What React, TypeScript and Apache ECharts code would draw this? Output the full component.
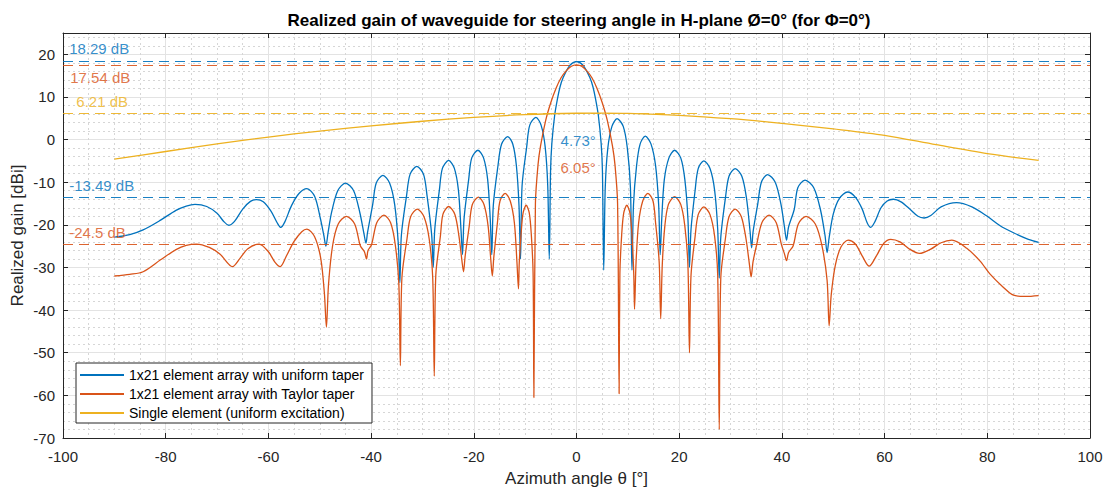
import { useEffect, useRef } from "react";
import * as echarts from "echarts";

// ---------- data ----------
const uniformGain: [number, number][] = [
  [-90, -22.9], [-87, -22.3], [-84.4, -21.2], [-81, -18.9], [-78, -16.6], [-76, -15.6], [-74.3, -15.2], [-72, -15.7], [-70, -17.3], [-68.7, -19.2], [-67.7, -20.1], [-66.6, -19.2], [-65, -16.3], [-63.5, -14.5], [-62.3, -14.1], [-61, -14.6], [-59.5, -16.8], [-58.3, -19.5], [-57.6, -20.6], [-56.8, -19.3], [-55.5, -15.5], [-54, -12.6], [-52.5, -11.5], [-51, -13.3], [-49.9, -18.4], [-49.2, -22.5], [-48.8, -25],
  [-48.4, -22], [-47.7, -17.1], [-46.5, -12.0], [-45, -10.2], [-43.4, -12.0], [-42.2, -17.1], [-41.4, -22], [-41, -24.3],
  [-40.7, -21.8], [-39.7, -15.3], [-39, -10.2], [-37.7, -8.4], [-36.4, -10.2], [-35.4, -15.3], [-34.7, -24.5], [-34.4, -33.6],
  [-34.1, -22.4], [-33.1, -13.2], [-32.4, -8.1], [-31.1, -6.3], [-29.8, -8.1], [-29.1, -13.2], [-28.2, -22.4], [-27.9, -30],
  [-27.6, -21.0], [-26.7, -11.8], [-26.1, -6.7], [-24.9, -4.9], [-23.8, -6.7], [-23.0, -11.8], [-22.5, -21.0], [-22.2, -27],
  [-21.9, -18.6], [-21.0, -9.4], [-20.4, -4.3], [-19.2, -2.5], [-18.1, -4.3], [-17.3, -9.4], [-16.8, -18.6], [-16.5, -27],
  [-16.2, -15.4], [-15.3, -6.2], [-14.6, -1.1], [-13.4, 0.7], [-12.4, -1.1], [-11.7, -6.2], [-11.2, -15.4], [-10.9, -28],
  [-10.6, -10.9], [-9.7, -1.7], [-9.1, 3.4], [-7.9, 5.2], [-6.9, 3.4], [-6.1, -1.7], [-5.6, -10.9], [-5.3, -28],
  [-5.05, -7.3], [-4.8, -0.9], [-4.25, 5.7], [-3.7, 9.6], [-3.2, 12.4], [-2.65, 14.4], [-1.3, 17.4], [0, 18.29], [1.3, 17.4], [2.65, 14.4], [3.2, 12.4], [3.7, 9.6], [4.25, 5.7], [4.8, -0.9], [5.05, -7.3], [5.3, -30.6],
  [5.6, -11.2], [6.1, -2.0], [6.9, 3.1], [7.9, 4.9], [9.1, 3.1], [9.9, -2.0], [10.5, -11.2], [10.8, -30.6],
  [11.1, -15.3], [11.7, -6.1], [12.4, -1.0], [13.4, 0.8], [14.5, -1.0], [15.4, -6.1], [16.0, -15.3], [16.3, -27],
  [16.6, -18.6], [17.1, -9.4], [18.0, -4.3], [19.1, -2.5], [20.3, -4.3], [21.1, -9.4], [21.7, -18.6], [22.0, -30],
  [22.3, -21.1], [23.1, -11.9], [23.7, -6.8], [24.8, -5.0], [26.0, -6.8], [26.9, -11.9], [27.5, -21.1], [27.8, -32.5],
  [28.1, -22.9], [29.0, -13.7], [29.7, -8.6], [30.9, -6.8], [32.2, -8.6], [33.1, -13.7], [33.8, -21.5], [34.1, -25.4],
  [34.4, -21.5], [35.3, -15.1], [36.0, -10.0], [37.2, -8.2], [38.7, -10.0], [39.8, -15.1], [40.5, -20.5], [40.9, -23.6],
  [41.3, -20.5], [42.4, -16.4], [43.1, -11.3], [44.5, -9.5], [46.2, -11.3], [47.5, -16.4], [48.4, -22.5], [48.8, -26.5],
  [49.2, -23.0], [50.0, -17.5], [51.2, -13.8], [52.8, -12.3], [54.3, -13.5], [55.6, -16.2], [56.6, -19.5], [57.3, -20.6], [58.1, -19.3], [59.3, -16.0], [60.5, -14.4], [61.7, -14.0], [63.2, -14.6], [65.0, -16.4], [66.5, -18.0], [67.7, -18.4], [69.0, -17.8], [71.0, -15.8], [74.0, -14.8], [77.0, -15.8], [80.0, -18.0], [82.5, -20.2], [85.0, -21.8], [88.0, -23.4], [90.0, -24.1],
];

const taylorGain: [number, number][] = [
  [-90, -32.0], [-87, -31.6], [-84.4, -31.0], [-81, -28.2], [-78, -25.8], [-76, -24.8], [-74, -24.5], [-71.5, -25.3], [-69.4, -26.9], [-67, -29.8], [-65.5, -27.8], [-64, -25.6], [-61.8, -24.5], [-60, -26.3], [-58.7, -28.8], [-57.7, -29.8], [-56.5, -27.3], [-55, -23.9], [-53.5, -21.6], [-52.5, -21.0], [-51, -22.8], [-49.8, -27.9], [-49.1, -36], [-48.7, -44],
  [-48.3, -34.1], [-47.5, -24.9], [-46.4, -19.8], [-44.8, -18.0], [-43.2, -19.8], [-42.1, -24.9], [-41.3, -26.3], [-40.9, -28],
  [-40.6, -26.0], [-39.9, -24.6], [-38.9, -19.5], [-37.5, -17.7], [-36.2, -19.5], [-35.3, -24.6], [-34.6, -33.8], [-34.3, -53],
  [-34.0, -32.4], [-33.0, -23.2], [-32.3, -18.1], [-31.0, -16.3], [-29.7, -18.1], [-28.7, -23.2], [-28.0, -32.4], [-27.7, -55.5],
  [-27.4, -31.8], [-26.5, -22.6], [-26.0, -17.5], [-24.9, -15.7], [-23.7, -17.5], [-22.9, -22.6], [-22.3, -28.5], [-22.0, -31],
  [-21.7, -27.5], [-20.9, -20.4], [-20.3, -15.3], [-19.1, -13.5], [-18.0, -15.3], [-17.2, -20.4], [-16.7, -28.0], [-16.4, -32],
  [-16.1, -27.5], [-15.4, -19.5], [-14.9, -14.4], [-13.9, -12.6], [-12.9, -14.4], [-12.1, -19.5], [-11.6, -28.7], [-11.3, -35],
  [-11.15, -29], [-10.8, -22.3], [-10.4, -17.2], [-9.8, -15.4], [-9.2, -17.2], [-8.8, -22.3], [-8.45, -31.5], [-8.3, -60.5],
  [-8.0, -15], [-7.5, -6], [-7.0, -1.5], [-6.0, 4.5], [-5.0, 8.7], [-4.0, 12.0], [-3.0, 14.5], [-2.0, 16.1], [-1.0, 17.2], [0, 17.54], [1.0, 17.2], [2.0, 16.1], [3.0, 14.5], [4.0, 12.0], [5.0, 8.7], [6.0, 4.5], [7.0, -1.5], [7.5, -6], [8.0, -15], [8.3, -59.6],
  [8.45, -31.5], [8.8, -22.3], [9.2, -17.2], [9.8, -15.4], [10.4, -17.2], [10.8, -22.3], [11.15, -31.5], [11.3, -39.8],
  [11.6, -28.7], [12.1, -19.5], [12.9, -14.4], [13.9, -12.6], [14.9, -14.4], [15.4, -19.5], [16.1, -28.7], [16.4, -42],
  [16.7, -29.5], [17.2, -20.3], [17.9, -15.2], [19.1, -13.4], [20.3, -15.2], [21.1, -20.3], [21.7, -29.5], [22.0, -50],
  [22.3, -31.9], [23.1, -22.7], [23.7, -17.6], [24.8, -15.8], [26.0, -17.6], [26.9, -22.7], [27.5, -31.9], [27.8, -68],
  [28.1, -32.4], [29.0, -23.2], [29.7, -18.1], [30.9, -16.3], [32.1, -18.1], [33.0, -23.2], [33.7, -29.5], [34.0, -32.2],
  [34.4, -28.5], [35.1, -24.6], [36.1, -19.5], [37.5, -17.7], [38.9, -19.5], [39.9, -24.6], [40.5, -26.8], [40.9, -28.4],
  [41.3, -26.5], [42.2, -24.9], [43.2, -19.8], [44.7, -18.0], [46.5, -19.8], [47.8, -24.9], [48.8, -33], [49.2, -43.7],
  [49.6, -36.5], [50.4, -29.5], [51.5, -25.2], [52.9, -23.6], [54.3, -24.5], [55.6, -27.2], [57.0, -29.7], [58.4, -27.3], [59.8, -24.4], [61.2, -23.4], [63.0, -24.0], [65.0, -25.8], [66.8, -26.7], [69.0, -25.7], [71.0, -24.2], [73.1, -23.6], [76.0, -25.5], [78.6, -28.5], [80.5, -31.5], [83.0, -34.5], [85.1, -36.5], [87.5, -36.8], [90.0, -36.6],
];

const singleGain: [number, number][] = [
  [-90, -4.6], [-80, -2.8], [-70, -1.0], [-60, 0.6], [-50, 2.0], [-40, 3.2], [-30, 4.3], [-20, 5.2], [-10, 5.85], [0, 6.18], [5, 6.21], [10, 6.15], [20, 5.7], [30, 4.9], [40, 3.8], [50, 2.5], [60, 1.0], [70, -1.2], [80, -3.3], [90, -4.9],
];

const seriesNames = [
  "1x21 element array with uniform taper",
  "1x21 element array with Taylor taper",
  "Single element (uniform excitation)",
];

// reference levels drawn as dashed lines, per series
const uniformLevels = [18.29, -13.49];
const taylorLevels = [17.54, -24.5];
const singleLevels = [6.21];

// annotation texts, their owning series and anchor (data coordinates)
const annotationTexts = ["18.29 dB", "17.54 dB", "6.21 dB", "-13.49 dB", "-24.5 dB", "4.73°", "6.05°"];
const annotationSeries = [0, 1, 2, 0, 1, 0, 1];
const annotationAnchors: [number, number][] = [
  [-98.8, 21.3], [-98.6, 14.5], [-97.4, 8.9], [-98.8, -10.8], [-98.8, -21.7], [-3.1, -0.2], [-3.1, -6.6],
];

const xTicks = { min: -100, max: 100, interval: 20 };
const yTicks = { min: -70, max: 25, interval: 10 };

// ---------- styles ----------
const COLORS = ["#0072BD", "#D95319", "#EDB120"];
const FONT = "'Liberation Sans', Arial, Helvetica, sans-serif";
const AXIS_COLOR = "#262626";

export default function App() {
  const ref = useRef<HTMLDivElement>(null);

  useEffect(() => {
    document.body.style.margin = "0";
    if (!ref.current) return;
    const chart = echarts.init(ref.current, undefined, { renderer: "svg" });

    const dash = (values: number[], color: string) => ({
      silent: true,
      symbol: "none",
      animation: false,
      label: { show: false },
      lineStyle: { type: [10, 6], color, width: 1, opacity: 0.9 },
      data: values.map((v) => ({ yAxis: v })),
    });

    const mainAxisX = {
      type: "value",
      min: xTicks.min,
      max: xTicks.max,
      interval: xTicks.interval,
      axisLine: { show: true, onZero: false, lineStyle: { color: AXIS_COLOR, width: 1 } },
      axisTick: { show: true, inside: true, length: 5, lineStyle: { color: AXIS_COLOR } },
      axisLabel: { color: "#262626", fontSize: 15, fontFamily: FONT, margin: 11 },
      splitLine: { show: true, lineStyle: { color: "#e3e3e3", width: 1 } },
      minorTick: { show: false, splitNumber: 4 },
      minorSplitLine: { show: true, lineStyle: { color: "#d6d6d6", width: 1, type: [2, 3] } },
      name: "Azimuth angle θ [°]",
      nameLocation: "middle",
      nameGap: 32,
      nameMoveOverlap: false,
      nameTextStyle: { color: "#262626", fontSize: 17, fontFamily: FONT },
    };

    const mainAxisY = {
      type: "value",
      min: yTicks.min,
      max: yTicks.max,
      interval: yTicks.interval,
      axisLine: { show: true, onZero: false, lineStyle: { color: AXIS_COLOR, width: 1 } },
      axisTick: { show: true, inside: true, length: 5, lineStyle: { color: AXIS_COLOR } },
      axisLabel: { color: "#262626", fontSize: 15, fontFamily: FONT, margin: 8, showMaxLabel: false },
      splitLine: { show: true, lineStyle: { color: "#e3e3e3", width: 1 } },
      minorTick: { show: false, splitNumber: 5 },
      minorSplitLine: { show: true, lineStyle: { color: "#d6d6d6", width: 1, type: [2, 3] } },
      name: "Realized gain [dBi]",
      nameLocation: "middle",
      nameGap: 37,
      nameMoveOverlap: false,
      nameTextStyle: { color: "#262626", fontSize: 17, fontFamily: FONT },
    };

    const boxAxis = (position: string) => ({
      type: "value",
      position,
      min: position === "top" ? xTicks.min : yTicks.min,
      max: position === "top" ? xTicks.max : yTicks.max,
      interval: position === "top" ? xTicks.interval : yTicks.interval,
      axisLine: { show: true, onZero: false, lineStyle: { color: AXIS_COLOR, width: 1 } },
      axisTick: { show: true, inside: true, length: 5, lineStyle: { color: AXIS_COLOR } },
      axisLabel: { show: false },
      splitLine: { show: false },
    });

    const lineSeries = (name: string, data: [number, number][], color: string, levels: number[]) => ({
      name,
      type: "line",
      data,
      showSymbol: false,
      symbol: "none",
      smooth: 0.3,
      lineStyle: { color, width: 1.3 },
      itemStyle: { color },
      z: 3,
      markLine: dash(levels, color),
    });

    const annotationSeriesList = annotationTexts.map((text, i) => ({
      name: "annotation-" + i,
      type: "scatter",
      silent: true,
      symbolSize: 0,
      data: [annotationAnchors[i]],
      z: 5,
      label: {
        show: true,
        position: "right",
        distance: 0,
        formatter: () => text,
        color: COLORS[annotationSeries[i]],
        fontSize: 15,
        fontFamily: FONT,
      },
    }));

    chart.setOption({
      animation: false,
      backgroundColor: "#ffffff",
      textStyle: { fontFamily: FONT },
      title: {
        text: "Realized gain of waveguide for steering angle in H-plane Ø=0° (for Φ=0°)",
        left: 574,
        top: 7,
        textAlign: "center",
        textStyle: { fontSize: 17, fontWeight: "bold", color: "#000", fontFamily: FONT },
      },
      grid: { left: 63, right: 14, top: 33, bottom: 50, containLabel: false, outerBoundsMode: "none" },
      legend: {
        data: seriesNames.map((n) => ({ name: n, icon: "rect" })),
        left: 76,
        top: 363,
        orient: "vertical",
        backgroundColor: "#ffffff",
        borderColor: AXIS_COLOR,
        borderWidth: 1,
        padding: [5, 8, 3, 4],
        itemGap: 5,
        itemWidth: 44,
        itemHeight: 2,
        textStyle: { fontSize: 14, color: "#000", fontFamily: FONT },
      },
      xAxis: [mainAxisX, boxAxis("top")],
      yAxis: [mainAxisY, boxAxis("right")],
      series: [
        lineSeries(seriesNames[0], uniformGain, COLORS[0], uniformLevels),
        lineSeries(seriesNames[1], taylorGain, COLORS[1], taylorLevels),
        lineSeries(seriesNames[2], singleGain, COLORS[2], singleLevels),
        ...annotationSeriesList,
      ],
    });

    return () => chart.dispose();
  }, []);

  return (
    <div
      ref={ref}
      style={{ position: "absolute", left: 0, top: 0, width: 1104, height: 488, background: "#fff" }}
    />
  );
}
